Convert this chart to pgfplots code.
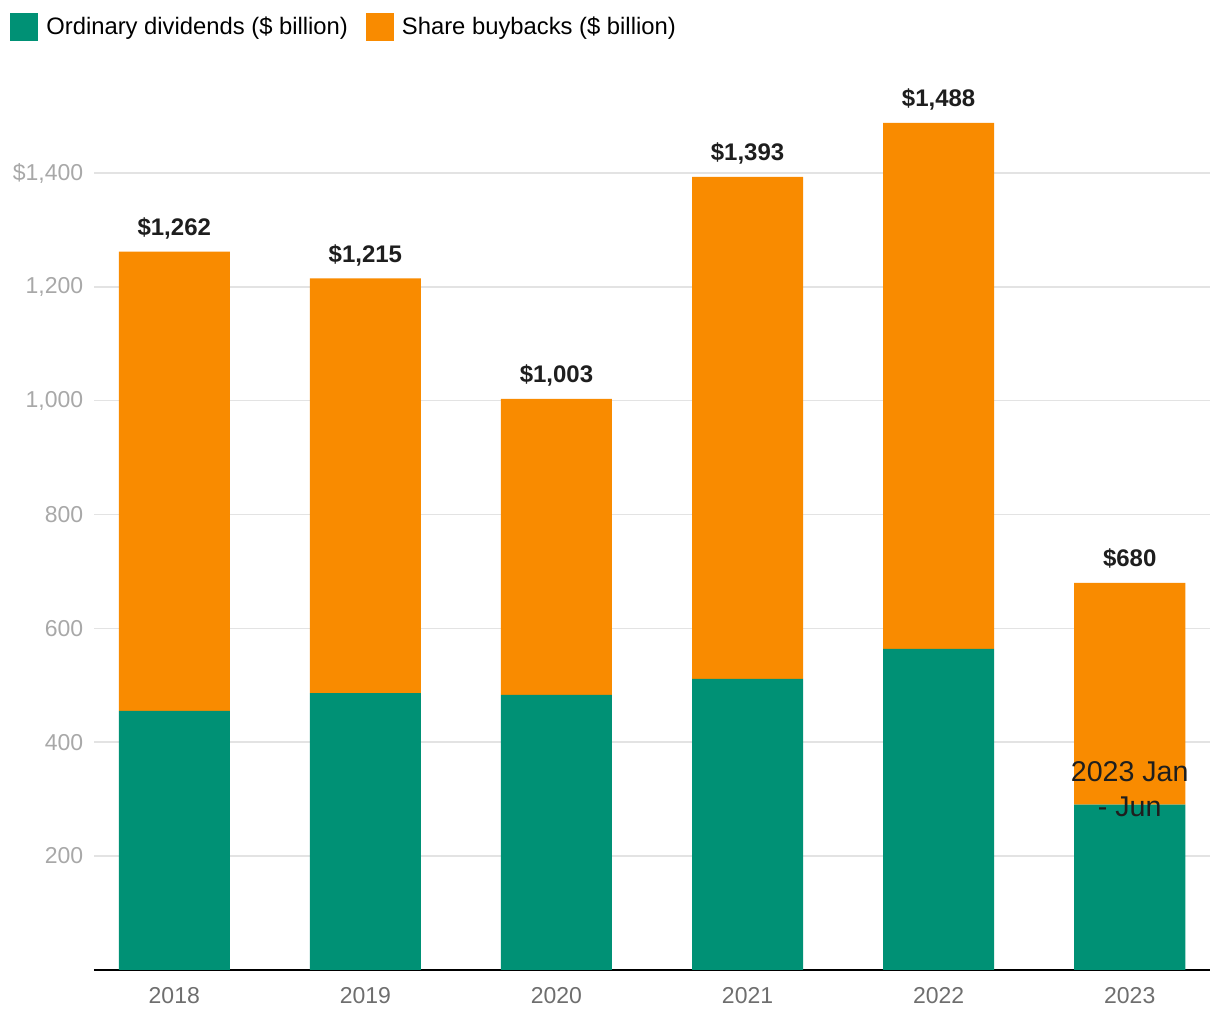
\documentclass[border=0pt]{standalone}
\usepackage{fontspec}
\setmainfont{Liberation Sans}
\usepackage{pgfplots}
\pgfplotsset{compat=1.18}
\definecolor{divc}{HTML}{009175}
\definecolor{buyc}{HTML}{F98B00}
\definecolor{gridc}{HTML}{E3E3E3}
\definecolor{ytc}{HTML}{A8A8A8}
\definecolor{xtc}{HTML}{6E6E6E}
\definecolor{lblc}{HTML}{1E1E1E}
\begin{document}
\fontsize{11pt}{13.5pt}\selectfont
\begin{tikzpicture}
\begin{axis}[
  name=ax,
  scale only axis, width=558pt, height=441.1pt,
  xmin=-0.42, xmax=5.42, ymin=0, ymax=1550,
  ybar stacked, bar width=55.5pt,
  clip=false,
  axis x line*=bottom, axis y line*=left,
  x axis line style={black, line width=1pt, -},
  y axis line style={draw=none},
  major tick length=0pt,
  xtick={0,1,2,3,4,5},
  xticklabels={2018,2019,2020,2021,2022,2023},
  xticklabel style={xtc, font=\fontsize{11.5pt}{13pt}\selectfont, yshift=-5pt},
  ytick={200,400,600,800,1000,1200,1400},
  yticklabels={200,400,600,800,{1,000},{1,200},{\$1,400}},
  yticklabel style={ytc, font=\fontsize{11.5pt}{13pt}\selectfont, xshift=-1.5pt},
  ymajorgrids, grid style={gridc, line width=0.75pt},
  legend columns=2,
  legend style={draw=none, fill=none, at={(axis description cs:-0.0753,1.085)}, anchor=north west,
    font=\fontsize{11.9pt}{13pt}\selectfont, inner sep=0pt,
    /tikz/every odd column/.append style={column sep=2pt},
    /tikz/every even column/.append style={column sep=7pt}},
  legend cell align=left,
]
\addplot[fill=divc, draw=none,
  legend image code/.code={\fill[divc] (0pt,-7pt) rectangle (14pt,7pt);}]
  coordinates {(0,455) (1,486) (2,483) (3,511) (4,564) (5,290)};
\addlegendentry{Ordinary dividends (\$ billion)}
\addplot[fill=buyc, draw=none,
  legend image code/.code={\fill[buyc] (0pt,-7pt) rectangle (14pt,7pt);}]
  coordinates {(0,807) (1,729) (2,520) (3,882) (4,924) (5,390)};
\addlegendentry{Share buybacks (\$ billion)}
\end{axis}
\begin{axis}[
  at={(ax.south west)}, anchor=south west,
  scale only axis, width=558pt, height=441.1pt,
  xmin=-0.42, xmax=5.42, ymin=0, ymax=1550,
  hide axis, clip=false,
]
\addplot[draw=none, mark=none,
  point meta=y,
  nodes near coords={\$\pgfmathprintnumber[fixed, precision=0, 1000 sep={,}, assume math mode=true]{\pgfplotspointmeta}},
  every node near coord/.append style={lblc, font=\fontsize{12pt}{13pt}\selectfont\bfseries, anchor=base, yshift=8pt}]
  coordinates {(0,1262) (1,1215) (2,1003) (3,1393) (4,1488) (5,680)};
\node[font=\fontsize{14.3pt}{17.5pt}\selectfont, align=center, text=lblc] at (axis cs:5,318)
  {2023 Jan\\- Jun};
\end{axis}
\pgfresetboundingbox
\path ([xshift=-47pt,yshift=-25.5pt]ax.south west) rectangle ([xshift=5pt,yshift=43.8pt]ax.north east);
\end{tikzpicture}
\end{document}
